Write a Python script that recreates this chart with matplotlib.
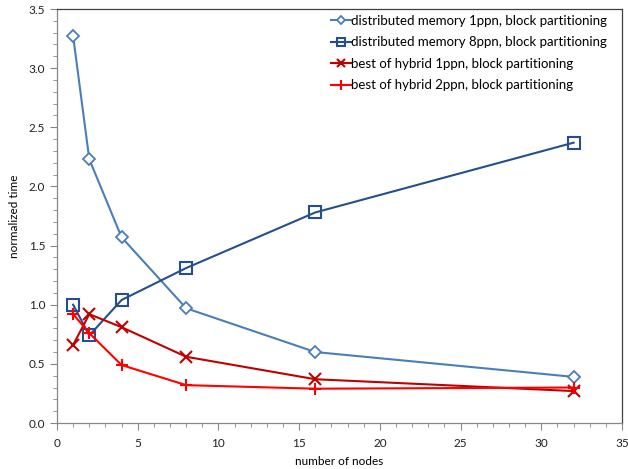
import numpy as np
import matplotlib.pyplot as plt
from matplotlib.ticker import MultipleLocator

plt.rcParams['font.family'] = ['Lato', 'DejaVu Sans']

nodes = [1, 2, 4, 8, 16, 32]
dm_1ppn = [3.27, 2.23, 1.57, 0.97, 0.60, 0.39]
dm_8ppn = [1.00, 0.74, 1.04, 1.31, 1.78, 2.37]
hyb_1ppn = [0.66, 0.92, 0.81, 0.56, 0.37, 0.27]
hyb_2ppn = [0.92, 0.76, 0.49, 0.32, 0.29, 0.30]

labels = ['distributed memory 1ppn, block partitioning',
          'distributed memory 8ppn, block partitioning',
          'best of hybrid 1ppn, block partitioning',
          'best of hybrid 2ppn, block partitioning']

fig = plt.figure(figsize=(6.28, 4.69), dpi=100)
ax = fig.add_axes([57 / 628, 1 - 423 / 469, 565 / 628, 414 / 469])

ax.plot(nodes, dm_1ppn, color='#4a7ebb', lw=1.5, marker='D', ms=6,
        mfc='white', mec='#4a7ebb', mew=1.3, label=labels[0])
ax.plot(nodes, dm_8ppn, color='#254e8c', lw=1.5, marker='s', ms=8.5,
        mfc='none', mec='#254e8c', mew=1.5, label=labels[1])
ax.plot(nodes, hyb_1ppn, color='#c00000', lw=1.5, marker='x', ms=8,
        mew=1.5, label=labels[2])
ax.plot(nodes, hyb_2ppn, color='#ff0000', lw=1.5, marker='+', ms=9,
        mew=1.5, label=labels[3])

ax.set_xlim(0, 35)
ax.set_ylim(0, 3.5)
ax.xaxis.set_major_locator(MultipleLocator(5))
ax.xaxis.set_minor_locator(MultipleLocator(1))
ax.yaxis.set_major_locator(MultipleLocator(0.5))
ax.yaxis.set_minor_locator(MultipleLocator(0.1))
ax.yaxis.set_major_formatter(plt.FormatStrFormatter('%.1f'))

for s in ['left', 'bottom']:
    ax.spines[s].set_color('#868686')
for s in ['top', 'right']:
    ax.spines[s].set_color('#404040')
ax.spines[:].set_linewidth(0.9)
ax.tick_params(which='both', direction='out', color='#868686', labelsize=8.5,
               labelcolor='#202020')
ax.tick_params(which='major', length=5)
ax.tick_params(which='minor', length=3)
ax.tick_params(axis='x', pad=6)

ax.set_xlabel('number of nodes', fontsize=8.5, labelpad=5)
ax.set_ylabel('normalized time', fontsize=8.5, labelpad=6)

ax.legend(loc='upper right', bbox_to_anchor=(0.995, 1.015), frameon=False,
          fontsize=9.5, handlelength=1.5, handletextpad=0.05, labelspacing=0.72,
          markerscale=0.75)

fig.savefig('out.png', dpi=100)
